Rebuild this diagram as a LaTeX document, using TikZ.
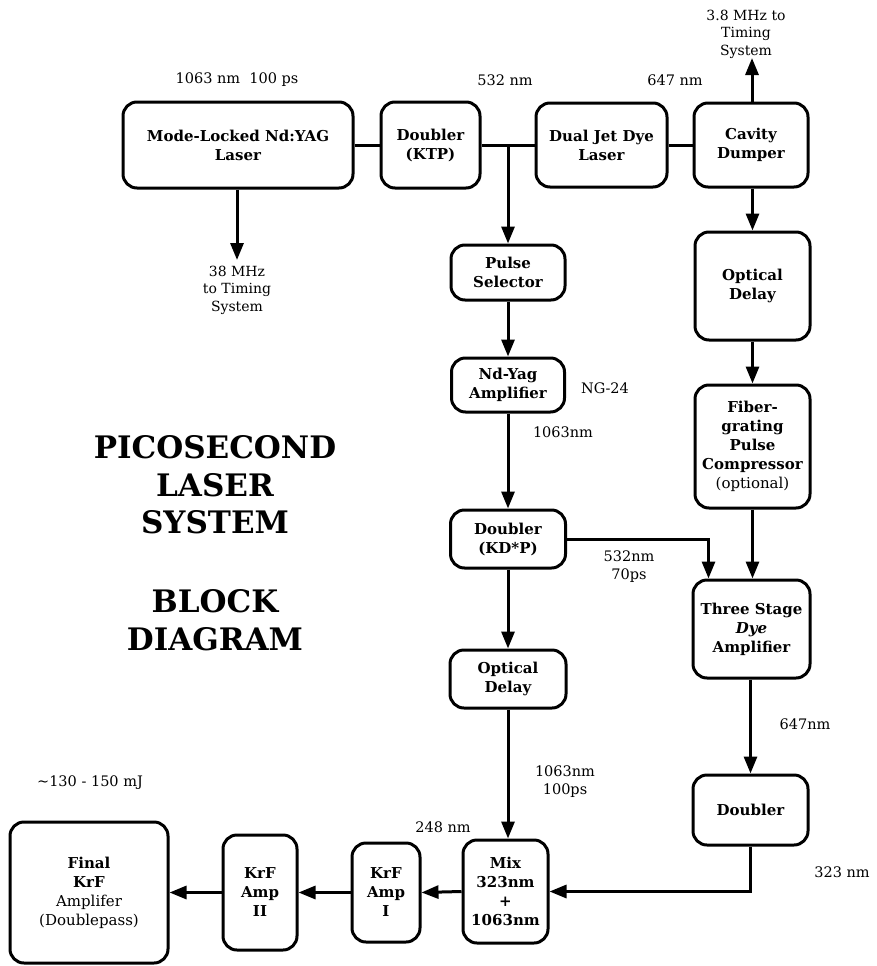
\documentclass[tikz,border=0pt]{standalone}
\usepackage{fontspec}
\setmainfont{DejaVu Serif}
\usetikzlibrary{arrows.meta,calc}
\begin{document}
\begin{tikzpicture}[x=1pt,y=-1pt,
  blk/.style={draw,line width=3pt,rounded corners=14pt,align=center,inner sep=0pt,
    font=\bfseries\fontsize{15}{19}\selectfont},
  conn/.style={line width=3pt},
  arr/.style={conn,-{Triangle[length=17pt,width=13pt]}},
  lbl/.style={align=center,inner sep=0pt,font=\fontsize{14.5}{18}\selectfont},
  ttl/.style={align=center,inner sep=0pt,font=\bfseries\fontsize{31}{37.5}\selectfont}]
\useasboundingbox (0,0) rectangle (877,966);
% boxes
\node[blk,minimum width=230pt,minimum height=86pt] (laser) at (238,145) {Mode-Locked Nd:YAG\\Laser};
\node[blk,minimum width=99pt,minimum height=86pt] (ktp) at (430.5,145) {Doubler\\(KTP)};
\node[blk,minimum width=131pt,minimum height=84pt] (dye) at (601.5,145) {Dual Jet Dye\\Laser};
\node[blk,minimum width=114pt,minimum height=84pt] (cav) at (751,145) {Cavity\\Dumper};
\node[blk,minimum width=114pt,minimum height=55pt] (psel) at (508,272.5) {Pulse\\Selector};
\node[blk,minimum width=113pt,minimum height=54pt] (ndamp) at (508,385) {Nd-Yag\\Amplifier};
\node[blk,minimum width=115pt,minimum height=58pt] (kdp) at (508,539) {Doubler\\(KD*P)};
\node[blk,minimum width=116pt,minimum height=58pt] (odl) at (508,679) {Optical\\Delay};
\node[blk,minimum width=115pt,minimum height=108pt] (odr) at (752.5,286) {Optical\\Delay};
\node[blk,minimum width=115pt,minimum height=123pt] (fiber) at (752.5,446.5) {Fiber-\\grating\\Pulse\\Compressor\\{\mdseries (optional)}};
\node[blk,minimum width=117pt,minimum height=98pt] (three) at (751.5,629) {Three Stage\\\textit{Dye}\\Amplifier};
\node[blk,minimum width=115pt,minimum height=70pt] (dbl) at (750.5,810) {Doubler};
\node[blk,minimum width=85pt,minimum height=103pt] (mix) at (505.5,891.5) {Mix\\323nm\\+\\1063nm};
\node[blk,minimum width=68pt,minimum height=99pt] (amp1) at (386,892.5) {KrF\\Amp\\I};
\node[blk,minimum width=74pt,minimum height=115pt] (amp2) at (260,892.5) {KrF\\Amp\\II};
\node[blk,minimum width=158pt,minimum height=141pt] (final) at (89,892.5) {Final\\KrF\\{\mdseries Amplifer}\\{\mdseries (Doublepass)}};
% free ends
\coordinate (j1) at (508,145);
\coordinate (up) at (752,58);
\coordinate (down) at (237,260);
% connectors
\draw[conn] (laser.east) -- (ktp.west);
\draw[conn] (ktp.east) -- (dye.west);
\draw[conn] (dye.east) -- (cav.west);
\draw[arr] (j1) -- (psel.north);
\draw[arr] (cav.north -| up) -- (up);
\draw[arr] (laser.south -| down) -- (down);
\draw[arr] (cav.south -| odr.north) -- (odr.north);
\draw[arr] (odr.south) -- (fiber.north);
\draw[arr] (fiber.south) -- (fiber.south |- three.north);
\draw[arr] (psel.south) -- (ndamp.north);
\draw[arr] (ndamp.south) -- (kdp.north);
\draw[arr] (kdp.south) -- (kdp.south |- odl.north);
\draw[arr] (odl.south) -- (odl.south |- mix.north);
\draw[arr] (kdp.east) -| ($(three.north west)+(17,0)$);
\draw[arr] (three.south -| dbl.north) -- (dbl.north);
\draw[arr] (dbl.south) |- (mix.east);
\draw[arr] (mix.west) -- (amp1.east);
\draw[arr] (amp1.west) -- (amp2.east);
\draw[arr] (amp2.west) -- (final.east);
% labels
\node[lbl] (l1) at (237,80) {1063 nm\ \ 100 ps};
\node[lbl] (l2) at (505,80) {532 nm};
\node[lbl] (l3) at (675,80) {647 nm};
\node[lbl,font=\fontsize{14}{17.5}\selectfont] (l4) at (746,34) {3.8 MHz to\\Timing\\System};
\node[lbl,font=\fontsize{14}{17.5}\selectfont] (l5) at (237,290) {38 MHz\\to Timing\\System};
\node[lbl] (l6) at (605,388) {NG-24};
\node[lbl] (l7) at (563,432) {1063nm};
\node[lbl] (l8) at (629,567) {532nm\\70ps};
\node[lbl] (l9) at (805,724) {647nm};
\node[lbl] (l10) at (565,782) {1063nm\\100ps};
\node[lbl] (l11) at (443,827) {248 nm};
\node[lbl] (l12) at (842,872) {323 nm};
\node[lbl] (l13) at (90,783) {\textasciitilde130 - 150 mJ};
\node[ttl] (t1) at (215,485) {PICOSECOND\\LASER\\SYSTEM};
\node[ttl] (t2) at (215,620) {BLOCK\\DIAGRAM};
\end{tikzpicture}
\end{document}
